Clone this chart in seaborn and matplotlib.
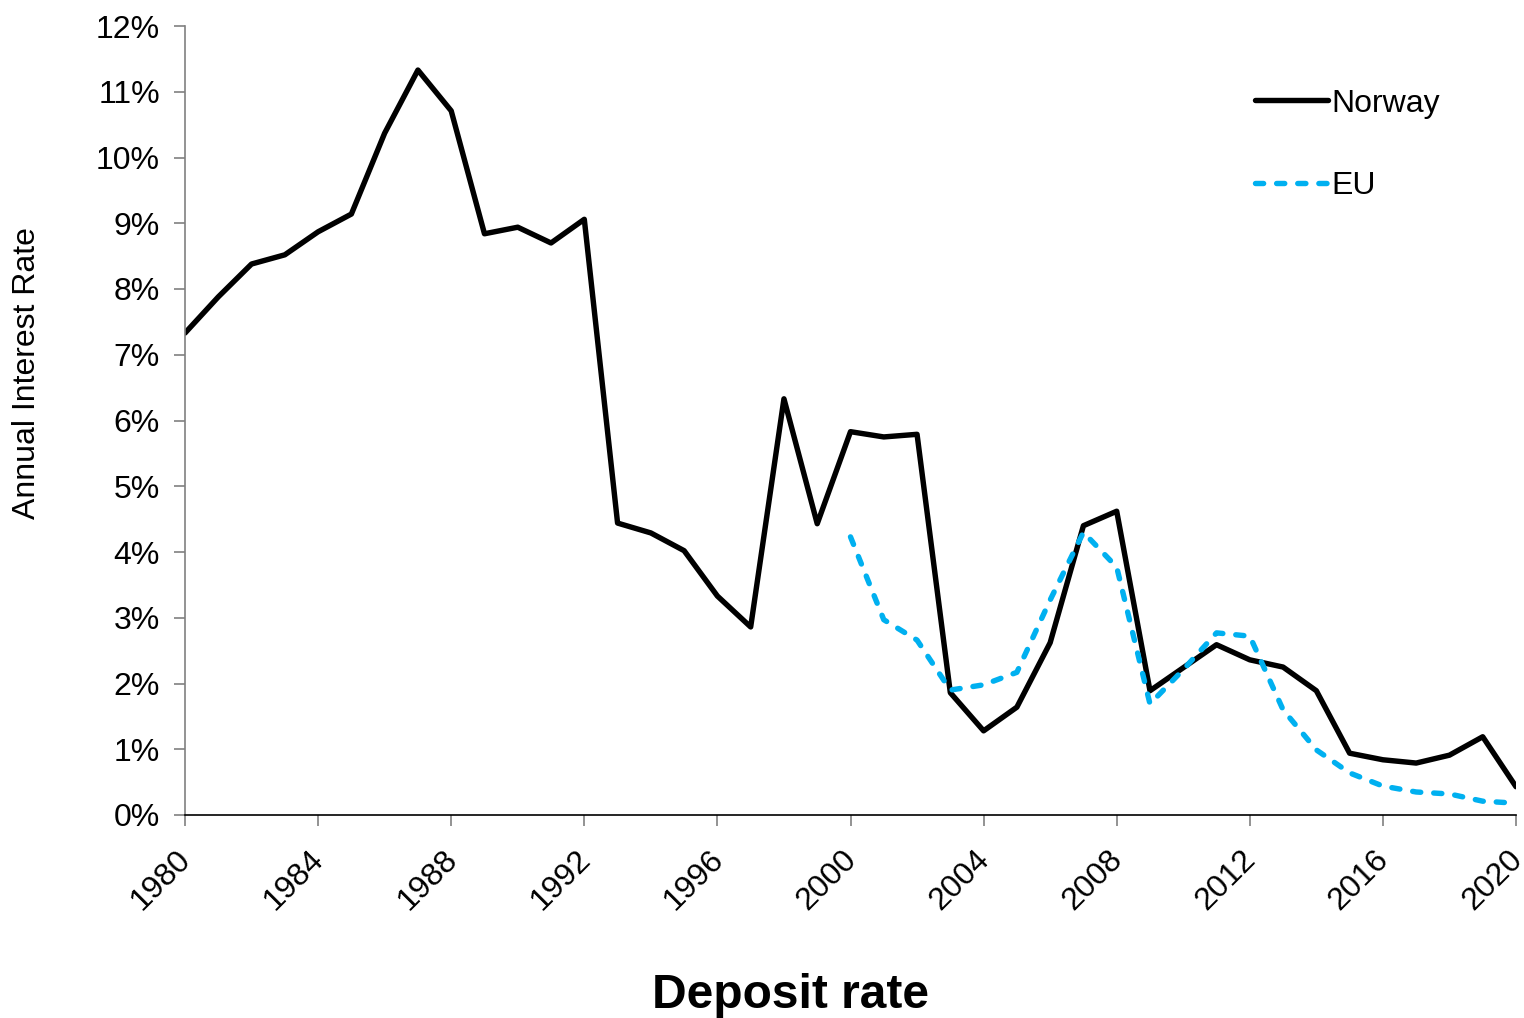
import matplotlib
matplotlib.use("Agg")
import matplotlib.pyplot as plt
import matplotlib.transforms as mtransforms
import seaborn as sns
import pandas as pd
from matplotlib.ticker import FuncFormatter, MultipleLocator

# Deposit rates (%)
years_norway = list(range(1980, 2021))
norway = [7.33, 7.88, 8.38, 8.52, 8.87, 9.14, 10.37, 11.33, 10.71, 8.84,
          8.94, 8.70, 9.06, 4.44, 4.29, 4.02, 3.33, 2.86, 6.33, 4.43,
          5.83, 5.75, 5.79, 1.86, 1.28, 1.64, 2.62, 4.40, 4.62, 1.89,
          2.24, 2.59, 2.36, 2.25, 1.89, 0.94, 0.84, 0.79, 0.91, 1.19, 0.43]

years_eu = list(range(2000, 2021))
eu = [4.23, 2.97, 2.66, 1.90, 1.98, 2.17, 3.27, 4.30, 3.77, 1.69,
      2.21, 2.77, 2.72, 1.60, 0.99, 0.64, 0.44, 0.35, 0.32, 0.21, 0.18]

df_no = pd.DataFrame({"year": years_norway, "rate": norway})
df_eu = pd.DataFrame({"year": years_eu, "rate": eu})

sns.set_style("white")
plt.rcParams["font.family"] = ["Liberation Sans", "DejaVu Sans"]
plt.rcParams["text.color"] = "black"
plt.rcParams["axes.labelcolor"] = "black"

LW = 3.9
EU_DASH = (0, (1.5, 2.4))

fig = plt.figure(figsize=(15.24, 10.18), dpi=100)
ax = fig.add_axes([185 / 1524, 1 - 815 / 1018, (1516 - 185) / 1524, (815 - 26) / 1018])

sns.lineplot(data=df_no, x="year", y="rate", ax=ax, color="black",
             linewidth=LW, label="Norway")
sns.lineplot(data=df_eu, x="year", y="rate", ax=ax, color="#00B0F0",
             linewidth=LW, label="EU")
eu_line = ax.get_lines()[-1]
eu_line.set_linestyle(EU_DASH)
eu_line.set_dash_capstyle("round")

ax.set_xlim(1980, 2020)
ax.set_ylim(0, 12)
ax.xaxis.set_major_locator(MultipleLocator(4))
ax.yaxis.set_major_locator(MultipleLocator(1))
ax.yaxis.set_major_formatter(FuncFormatter(lambda v, p: f"{v:.0f}%"))

for side in ["top", "right"]:
    ax.spines[side].set_visible(False)
ax.spines["left"].set_color("#808080")
ax.spines["left"].set_linewidth(1.2)
ax.spines["bottom"].set_color("black")
ax.spines["bottom"].set_linewidth(1.2)

ax.tick_params(axis="y", direction="out", length=8, width=1.2, color="#808080",
               labelcolor="black", labelsize=23, pad=10, left=True)
ax.tick_params(axis="x", direction="out", length=8, width=1.2, color="#808080",
               labelcolor="black", labelsize=23, pad=13, bottom=True)
shift = mtransforms.ScaledTranslation(-0.09, 0, fig.dpi_scale_trans)
for lbl in ax.get_xticklabels():
    lbl.set_rotation(45)
    lbl.set_ha("right")
    lbl.set_rotation_mode("anchor")
    lbl.set_transform(lbl.get_transform() + shift)

ax.set_xlabel("")
ax.set_ylabel("Annual Interest Rate", fontsize=23)
ax.yaxis.set_label_coords(-0.1075, 0.56)
fig.text(790 / 1524, 1 - 995 / 1018, "Deposit rate", fontsize=34.5,
         fontweight="bold", ha="center", va="center")

leg = ax.legend(loc="upper left", bbox_to_anchor=(0.782, 0.957), frameon=False,
                fontsize=23, handlelength=2.3, labelspacing=1.65,
                handletextpad=0.1)
for h in leg.get_lines():
    h.set_linewidth(LW)
leg.get_lines()[1].set_linestyle(EU_DASH)
leg.get_lines()[1].set_dash_capstyle("round")

fig.savefig("out.png", dpi=100)
